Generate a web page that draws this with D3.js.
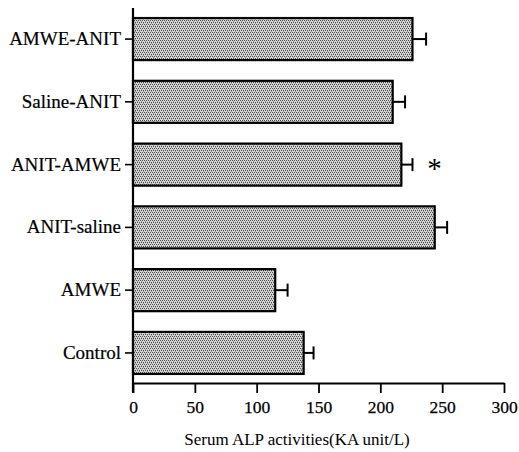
<!DOCTYPE html>
<html>
<head>
<meta charset="utf-8">
<script src="https://cdn.jsdelivr.net/npm/d3@7"></script>
<style>
  body { margin: 0; background: #fff; }
  svg { display: block; }
  text { font-family: "Liberation Serif", "DejaVu Serif", serif; fill: #000; }
</style>
</head>
<body>
<div id="chart"></div>
<script>
// groups, top to bottom
const groups = ["AMWE-ANIT", "Saline-ANIT", "ANIT-AMWE", "ANIT-saline", "AMWE", "Control"];
// mean serum ALP (KA unit/L)
const means = [226, 210, 217, 244, 115, 138];
// error bar (SE)
const errs = [11, 10, 9, 10, 10, 8];
// significance marks
const marks = ["", "", "*", "", "", ""];
const xTicks = [0, 50, 100, 150, 200, 250, 300];

const width = 519, height = 452;

const svg = d3.select('#chart').append('svg')
    .attr('width', width)
    .attr('height', height);

// stipple fill like the printed figure
const pat = svg.append('defs').append('pattern')
    .attr('id', 'stip')
    .attr('patternUnits', 'userSpaceOnUse')
    .attr('width', 4).attr('height', 4);
pat.append('rect').attr('width', 4).attr('height', 4).attr('fill', '#d6d6d6');
[[0, 0], [2, 0], [1, 2], [3, 2], [1, 1], [3, 3]].forEach((p, i) => {
    pat.append('rect')
        .attr('x', p[0]).attr('y', p[1])
        .attr('width', 1).attr('height', 1)
        .attr('fill', i < 4 ? '#4d4d4d' : '#9a9a9a');
});

const x = d3.scaleLinear().domain([0, 300]).range([133, 504]);
const y = d3.scaleBand().domain(groups).range([8, 384])
    .paddingInner(0.33).paddingOuter(0.16);

const axisY = 383;

const data = groups.map((g, i) => ({ g, v: means[i], e: errs[i], m: marks[i] }));

// bars
svg.selectAll('.bar')
    .data(data)
    .enter()
    .append('rect')
    .classed('bar', true)
    .attr('x', x(0))
    .attr('y', d => y(d.g))
    .attr('width', d => x(d.v) - x(0))
    .attr('height', y.bandwidth())
    .attr('fill', 'url(#stip)')
    .attr('stroke', '#000')
    .attr('stroke-width', 2.2);

// error bars
const eb = svg.selectAll('.err').data(data).enter().append('g').classed('err', true);
eb.append('line')
    .attr('x1', d => x(d.v)).attr('x2', d => x(d.v + d.e))
    .attr('y1', d => y(d.g) + y.bandwidth() / 2)
    .attr('y2', d => y(d.g) + y.bandwidth() / 2)
    .attr('stroke', '#000').attr('stroke-width', 2);
eb.append('line')
    .attr('x1', d => x(d.v + d.e)).attr('x2', d => x(d.v + d.e))
    .attr('y1', d => y(d.g) + y.bandwidth() / 2 - 6.5)
    .attr('y2', d => y(d.g) + y.bandwidth() / 2 + 6.5)
    .attr('stroke', '#000').attr('stroke-width', 2);

// asterisk
svg.selectAll('.mark')
    .data(data.filter(d => d.m))
    .enter()
    .append('text')
    .attr('x', d => x(d.v + d.e) + 22)
    .attr('y', d => y(d.g) + y.bandwidth() / 2 + 13)
    .attr('text-anchor', 'middle')
    .style('font-size', '29px')
    .text(d => d.m);

// y axis
const yAxis = svg.append('g')
    .attr('transform', `translate(${x(0)},0)`)
    .call(d3.axisLeft(y).tickSize(8).tickPadding(4).tickSizeOuter(0));
yAxis.select('.domain').remove();
yAxis.selectAll('.tick line').attr('stroke', '#000').attr('stroke-width', 1.6);
yAxis.selectAll('.tick text')
    .style('font-size', '19px')
    .attr('fill', '#000')
    .attr('stroke', '#000').attr('stroke-width', 0.2);
svg.append('line')
    .attr('x1', x(0)).attr('x2', x(0))
    .attr('y1', 8).attr('y2', axisY + 10)
    .attr('stroke', '#000').attr('stroke-width', 2.2);

// x axis
const xAxis = svg.append('g')
    .attr('transform', `translate(0,${axisY})`)
    .call(d3.axisBottom(x).tickValues(xTicks).tickSize(10).tickPadding(8).tickSizeOuter(0));
xAxis.select('.domain').attr('stroke', '#000').attr('stroke-width', 2.2);
xAxis.selectAll('.tick line').attr('stroke', '#000').attr('stroke-width', 1.8);
xAxis.selectAll('.tick text')
    .style('font-size', '17.5px')
    .attr('fill', '#000')
    .attr('stroke', '#000').attr('stroke-width', 0.25);

svg.append('text')
    .attr('x', 297)
    .attr('y', 445)
    .attr('text-anchor', 'middle')
    .style('font-size', '17px')
    .text('Serum ALP activities(KA unit/L)');
</script>
</body>
</html>
